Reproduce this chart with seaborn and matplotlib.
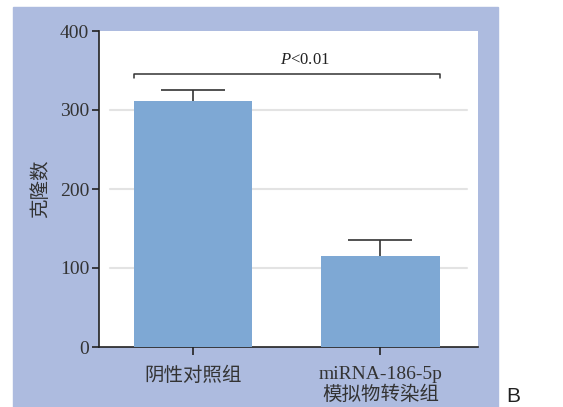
import numpy as np
import pandas as pd
import seaborn as sns
import matplotlib.pyplot as plt
from matplotlib.patches import Rectangle

groups = ["阴性对照组", "miRNA-186-5p\n模拟物转染组"]
colonies = [311, 115]
sd = [14, 20]
y_ticks = [0, 100, 200, 300, 400]

sns.set_style("ticks")
plt.rcParams['font.family'] = ['Liberation Serif', 'Noto Sans CJK SC']
plt.rcParams['axes.unicode_minus'] = False
plt.rcParams['mathtext.fontset'] = 'custom'
plt.rcParams['mathtext.it'] = 'Liberation Serif:italic'
plt.rcParams['mathtext.rm'] = 'Liberation Serif'

df = pd.DataFrame({"group": groups, "n": colonies})

fig = plt.figure(figsize=(5.63, 4.07), dpi=100)
fig.patch.set_facecolor("white")
# periwinkle panel behind the plot
fig.patches.append(Rectangle((13 / 563, 0), 485 / 563, 400 / 407,
                             transform=fig.transFigure, color="#adbbdf", zorder=-1))
ax = fig.add_axes([99 / 563, 60 / 407, 379 / 563, 316 / 407])
ax.set_facecolor("white")

sns.barplot(data=df, x="group", y="n", color="#7ea8d4", saturation=1,
            width=0.63, errorbar=None, linewidth=0, ax=ax, zorder=3)
# error bars sit behind the bars so only the upper half shows
ax.errorbar(range(len(colonies)), colonies, yerr=sd, fmt="none",
            ecolor="#333333", elinewidth=1.2, capsize=23, capthick=1.2, zorder=2)

# inset gridlines
for t in y_ticks[1:-1]:
    ax.plot([-0.44, 1.46], [t, t], color="#e3e3e3", lw=1.5, zorder=1)

# significance bracket
ax.plot([-0.315, -0.315, 1.315, 1.315], [340, 345.5, 345.5, 340], color="#333333", lw=1.1, zorder=5)
ax.text(0.6, 353, "$\\mathit{P}$<0.01", ha="center", va="bottom", fontsize=12, color="#222222")

ax.set_xlim(-0.5, 1.52)
ax.set_ylim(0, 400)
ax.set_yticks(y_ticks)
ax.set_xlabel("")
ax.set_ylabel("克隆数", fontsize=14, color="#333333")
ax.yaxis.set_label_coords(-0.128, 0.5)
sns.despine(ax=ax)
for s in ["left", "bottom"]:
    ax.spines[s].set_color("#222222")
    ax.spines[s].set_linewidth(1.2)
ax.tick_params(axis="y", labelsize=14, length=5, width=1.2, color="#222222", labelcolor="#333333", pad=2)
ax.tick_params(axis="x", labelsize=14, length=6, width=1.2, color="#222222", labelcolor="#333333", pad=8)
for lbl in ax.get_xticklabels():
    lbl.set_linespacing(1.15)

fig.text(513 / 563, 11 / 407, "B", fontsize=15, family="Liberation Sans", ha="center", va="center", color="#222222")

fig.savefig("out.png", dpi=100, facecolor=fig.get_facecolor())
